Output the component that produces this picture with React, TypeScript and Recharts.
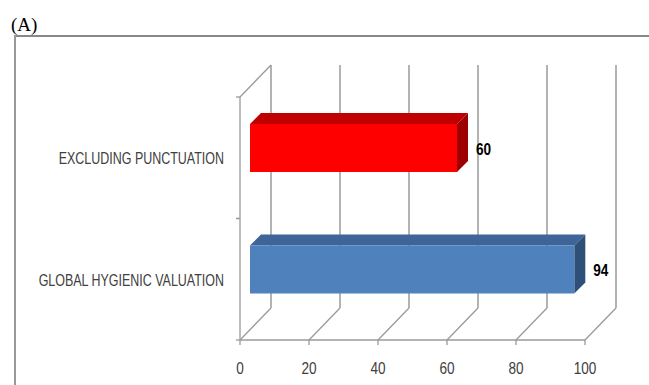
import React from 'react';
import { BarChart, Bar, XAxis, YAxis, CartesianGrid, LabelList } from 'recharts';

// ---- data ----
const categories = ['EXCLUDING PUNCTUATION', 'GLOBAL HYGIENIC VALUATION'];
const values = [60, 94];
const xTicks = [0, 20, 40, 60, 80, 100];

const data = categories.map((name, i) => ({ name, value: values[i] }));

// ---- layout / style ----
const W = 649;
const H = 385;
const Y_AXIS_W = 200;
const MARGIN = { top: 97, right: 64, bottom: 0, left: 40 };
const X_AXIS_H = 45;
const PLOT_LEFT = MARGIN.left + Y_AXIS_W;
const PLOT_TOP = MARGIN.top;
const PLOT_BOTTOM = H - MARGIN.bottom - X_AXIS_H;
const DEPTH_X = 31;
const DEPTH_Y = 32;
const BAR_DX = 10;
const BAR_DY = 10;
const BAR_DEPTH = 11;

const FACES = [
  { front: '#FF0000', top: '#C00000', side: '#9C0000' },
  { front: '#4F81BD', top: '#3D6597', side: '#2E4F78' },
];
const LINE = '#9a9a9a';
const TEXT = '#404040';
const FONT = '"Liberation Sans", Arial, sans-serif';
const NARROW = 0.8;
const NARROW_CAT = 0.78;

const gridLine = (props: any) => {
  const { x1, y1, y2 } = props;
  const bx = x1 + DEPTH_X;
  const isFirst = Math.abs(x1 - PLOT_LEFT) < 0.5;
  return (
    <g key={props.key ?? `v-${x1}`}>
      <line x1={x1} y1={y2} x2={bx} y2={y2 - DEPTH_Y} stroke={LINE} strokeWidth={1.3} />
      <line x1={bx} y1={y1 - DEPTH_Y} x2={bx} y2={y2 - DEPTH_Y} stroke={LINE} strokeWidth={1.5} />
      {isFirst && <line x1={x1} y1={y1} x2={bx} y2={y1 - DEPTH_Y} stroke={LINE} strokeWidth={1.3} />}
    </g>
  );
};

const XTick = (props: any) => {
  const { x, payload } = props;
  return (
    <g>
      <line x1={x} x2={x} y1={PLOT_BOTTOM} y2={PLOT_BOTTOM + 5} stroke={LINE} strokeWidth={1.3} />
      <text
        transform={`translate(${x},${PLOT_BOTTOM + 34}) scale(${NARROW},1)`}
        textAnchor="middle"
        fill={TEXT}
        fontSize={17}
        fontFamily={FONT}
      >
        {payload.value}
      </text>
    </g>
  );
};

const YTick = (props: any) => {
  const { y, payload } = props;
  const half = (PLOT_BOTTOM - PLOT_TOP) / categories.length / 2;
  return (
    <g>
      <line x1={PLOT_LEFT - 4} x2={PLOT_LEFT} y1={y - half} y2={y - half} stroke={LINE} strokeWidth={1.3} />
      <line x1={PLOT_LEFT - 4} x2={PLOT_LEFT} y1={y + half} y2={y + half} stroke={LINE} strokeWidth={1.3} />
      <text
        transform={`translate(${PLOT_LEFT - 16},${y + 6.5}) scale(${NARROW_CAT},1)`}
        textAnchor="end"
        fill={TEXT}
        fontSize={16}
        fontFamily={FONT}
      >
        {payload.value}
      </text>
    </g>
  );
};

const Bar3D = (props: any) => {
  const { x, y, width, height, index } = props;
  const f = FACES[index % FACES.length];
  const fx = x + BAR_DX;
  const fy = y - BAR_DY;
  const d = BAR_DEPTH;
  return (
    <g>
      <polygon
        points={`${fx},${fy} ${fx + d},${fy - d} ${fx + width + d},${fy - d} ${fx + width},${fy}`}
        fill={f.top}
      />
      <polygon
        points={`${fx + width},${fy} ${fx + width + d},${fy - d} ${fx + width + d},${fy + height - d} ${fx + width},${fy + height}`}
        fill={f.side}
      />
      <rect x={fx} y={fy} width={width} height={height} fill={f.front} />
    </g>
  );
};

const ValueLabel = (props: any) => {
  const { x, y, width, height, value } = props;
  return (
    <text
      transform={`translate(${x + width + 29},${y + height / 2 - BAR_DY + 6.5}) scale(${NARROW},1)`}
      textAnchor="start"
      fill="#000"
      fontWeight="bold"
      fontSize={17}
      fontFamily={FONT}
    >
      {value}
    </text>
  );
};

export default function App() {
  return (
    <div style={{ position: 'absolute', left: 0, top: 0, width: W, height: H, background: '#fff', overflow: 'hidden' }}>
      <svg width={W} height={H} style={{ position: 'absolute', left: 0, top: 0 }}>
        <text x={11} y={30.5} fontFamily='"Liberation Serif", "Times New Roman", serif' fontSize={19} fill="#000">
          (A)
        </text>
        <line x1={15} y1={36} x2={W + 2} y2={36} stroke="#888" strokeWidth={2} />
        <line x1={15} y1={35} x2={15} y2={H + 2} stroke="#999" strokeWidth={2} />
      </svg>
      <div style={{ position: 'absolute', left: 0, top: 0 }}>
        <BarChart width={W} height={H} data={data} layout="vertical" margin={MARGIN}>
          <CartesianGrid horizontal={false} vertical={gridLine} />
          <XAxis
            type="number"
            domain={[0, 100]}
            ticks={xTicks}
            height={X_AXIS_H}
            axisLine={{ stroke: LINE, strokeWidth: 1.3 }}
            tickLine={false}
            tick={<XTick />}
            interval={0}
          />
          <YAxis
            type="category"
            dataKey="name"
            width={Y_AXIS_W}
            axisLine={{ stroke: LINE, strokeWidth: 1.3 }}
            tickLine={false}
            tick={<YTick />}
            interval={0}
          />
          <Bar dataKey="value" barSize={48} shape={<Bar3D />} isAnimationActive={false}>
            <LabelList dataKey="value" content={<ValueLabel />} />
          </Bar>
        </BarChart>
      </div>
    </div>
  );
}
